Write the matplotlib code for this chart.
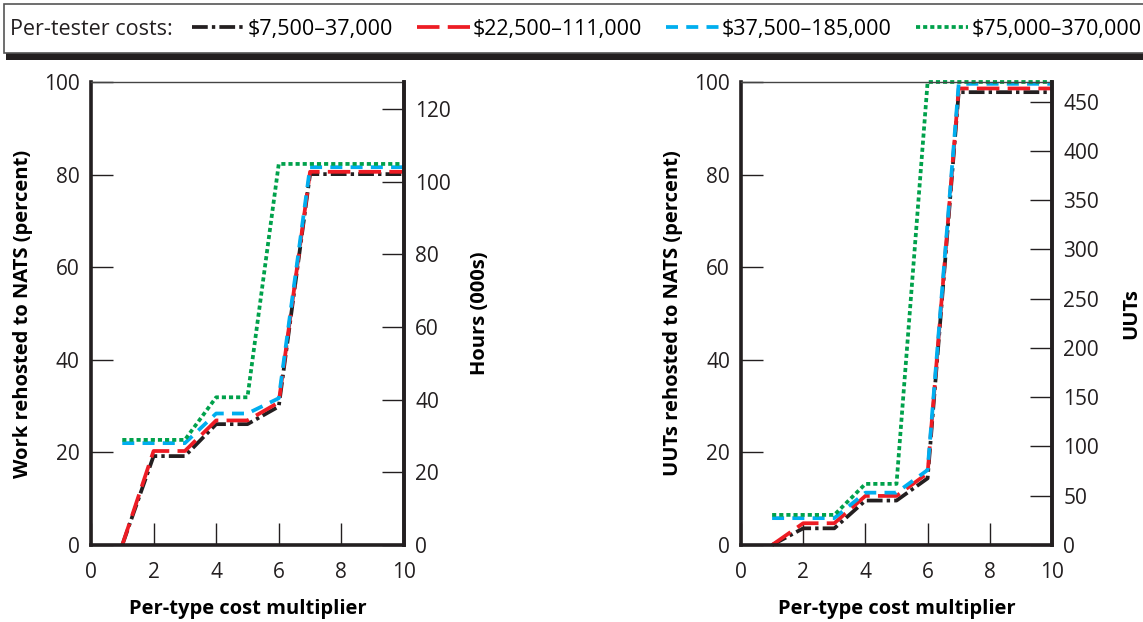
import matplotlib
matplotlib.use('Agg')
import matplotlib.pyplot as plt
from matplotlib.patches import Rectangle

plt.rcParams['font.family'] = ['Open Sans', 'DejaVu Sans']

# data
mult = [1, 2, 3, 4, 5, 6, 7, 10]
series_names = ['$7,500–37,000', '$22,500–111,000', '$37,500–185,000', '$75,000–370,000']

work_low = [0, 19.2, 19.2, 26.1, 26.1, 29.9, 80.1, 80.1]
work_mid = [0, 20.3, 20.3, 26.9, 26.9, 30.8, 80.6, 80.6]
work_high = [22.0, 22.0, 22.0, 28.4, 28.4, 31.7, 81.6, 81.6]
work_top = [22.7, 22.7, 22.7, 31.9, 31.9, 82.3, 82.3, 82.3]

uut_low = [0, 3.6, 3.6, 9.6, 9.6, 14.4, 97.8, 97.8]
uut_mid = [0, 4.7, 4.7, 10.6, 10.6, 15.5, 98.6, 98.6]
uut_high = [5.8, 5.8, 5.8, 11.3, 11.3, 16.2, 99.6, 99.6]
uut_top = [6.5, 6.5, 6.5, 13.2, 13.2, 100, 100, 100]

hours_max = 127.5   # 000s of hours at 100 percent
uuts_max = 470      # UUTs at 100 percent

colors = ['#231f20', '#ed1c24', '#00aeef', '#00a14b']
styles = [(0, (4.2, 1.1, 0.9, 1.1)), (0, (6, 2.2)), (0, (3.2, 2.2)), (0, (1.1, 0.8))]

fig = plt.figure(figsize=(11.43, 6.22), dpi=100)

def setup(ax, ylabel, right_label, right_max, right_ticks, lpad, rpad):
    ax.set_xlim(0, 10)
    ax.set_ylim(0, 100)
    ax.set_xticks([0, 2, 4, 6, 8, 10])
    ax.set_yticks([0, 20, 40, 60, 80, 100])
    ax.tick_params(direction='in', length=16, width=1, labelsize=15, pad=8,
                   colors='#231f20')
    ax.tick_params(axis='x', pad=12)
    for s in ['left', 'bottom', 'right']:
        ax.spines[s].set_linewidth(2.6)
        ax.spines[s].set_color('#231f20')
    ax.spines['top'].set_linewidth(1)
    ax.spines['top'].set_color('#444444')
    ax.set_xlabel('Per-type cost multiplier', fontsize=14.5, fontweight='bold', labelpad=12)
    ax.set_ylabel(ylabel, fontsize=14.5, fontweight='bold', labelpad=lpad)
    ax2 = ax.twinx()
    ax2.set_ylim(0, right_max)
    ax2.set_yticks(right_ticks)
    ax2.tick_params(direction='in', length=16, width=1, labelsize=15, pad=8,
                    colors='#231f20')
    ax2.spines['right'].set_linewidth(2.6)
    ax2.spines['right'].set_color('#231f20')
    for s in ['left', 'bottom', 'top']:
        ax2.spines[s].set_visible(False)
    ax2.set_ylabel(right_label, fontsize=14.5, fontweight='bold', labelpad=rpad)
    return ax2

ax1 = fig.add_axes([0.0796, 0.1238, 0.2738, 0.7444])
ax1b = setup(ax1, 'Work rehosted to NATS (percent)', 'Hours (000s)', hours_max,
             [0, 20, 40, 60, 80, 100, 120], 8, 14)
lines = []
for vals, c, ls, name in zip([work_low, work_mid, work_high, work_top], colors, styles, series_names):
    ln, = ax1.plot(mult, vals, color=c, linestyle=ls, linewidth=2.7, label=name,
                   clip_on=False)
    lines.append(ln)

ax2 = fig.add_axes([0.6483, 0.1238, 0.2721, 0.7444])
ax2b = setup(ax2, 'UUTs rehosted to NATS (percent)', 'UUTs', uuts_max,
             [0, 50, 100, 150, 200, 250, 300, 350, 400, 450], 8, 16)
for vals, c, ls in zip([uut_low, uut_mid, uut_high, uut_top], colors, styles):
    ax2.plot(mult, vals, color=c, linestyle=ls, linewidth=2.7, clip_on=False)

# legend banner at the top
fig.patches.append(Rectangle((6 / 1143, 1 - 60 / 622), 1.0, 7 / 622,
                             transform=fig.transFigure, facecolor='#231f20',
                             edgecolor='none'))
fig.patches.append(Rectangle((4 / 1143, 1 - 53 / 622), 1.0, 49 / 622,
                             transform=fig.transFigure, facecolor='white',
                             edgecolor='#555555', linewidth=1.2))
fig.text(10 / 1143, 0.953, 'Per-tester costs:', fontsize=15.5, va='center', ha='left',
         color='#231f20')
fig.legend(handles=lines, labels=series_names, loc='center left',
           bbox_to_anchor=(192 / 1143, 0.953), ncol=4, frameon=False, fontsize=15.5,
           handlelength=2.45, handletextpad=0.15, columnspacing=1.1,
           borderaxespad=0, borderpad=0)

fig.savefig('out.png', dpi=100)
